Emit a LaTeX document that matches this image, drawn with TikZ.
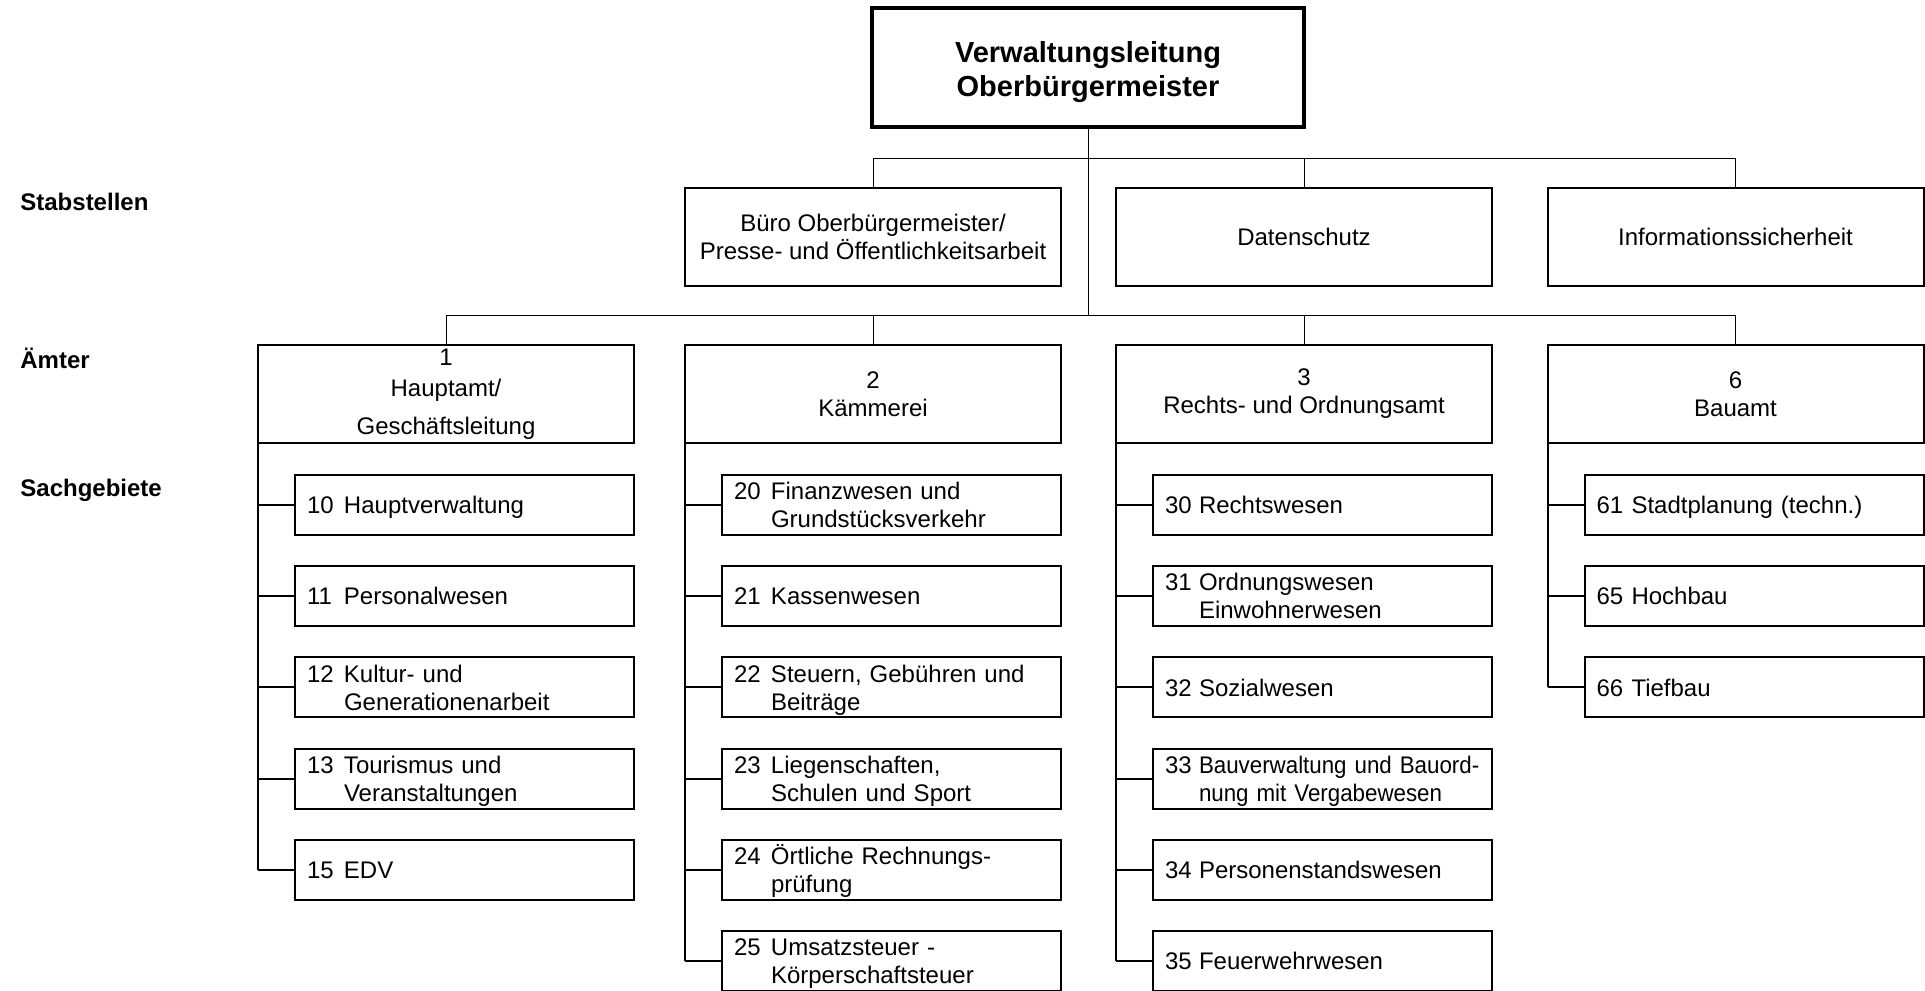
\documentclass[tikz,border=0pt]{standalone}
\usepackage{fontspec}
\setmainfont{Liberation Sans}
\usetikzlibrary{calc}

\newcommand{\sgtext}[3][18.5pt]{\raisebox{-1.5pt}[\height][\depth]{\begin{tabular}{@{}p{#1}@{}l@{}}#2&#3\end{tabular}}}

\tikzset{
  headbox/.style={draw, line width=2pt, outer sep=0pt, minimum width=216pt, minimum height=59pt,
    align=center, font=\bfseries\fontsize{14.5}{17}\selectfont},
  box/.style={draw, line width=1pt, outer sep=0pt, inner sep=0pt, minimum width=188pt,
    minimum height=49pt, align=center, font=\fontsize{12}{14}\selectfont},
  sgbox/.style={draw, line width=1pt, outer sep=0pt, inner xsep=6pt, inner ysep=0pt,
    minimum height=30pt, text width=157.5pt, align=left, font=\fontsize{12}{14}\selectfont},
  level/.style={anchor=base west, inner sep=0pt, font=\bfseries\fontsize{12}{14}\selectfont},
  conn/.style={line width=0.5pt},
  sconn/.style={line width=1pt},
}

\begin{document}
\begin{tikzpicture}[x=0.5pt, y=-0.5pt]
  \clip (0,0) rectangle (1925,990);

  % Leitung
  \node[headbox] (vl) at (1088,67.5)
    {\raisebox{-2.5pt}[\height][\depth]{\begin{tabular}{@{}c@{}}Verwaltungsleitung\\Oberbürgermeister\end{tabular}}};
  \coordinate (sbus) at (1088,158);
  \coordinate (abus) at (1088,315);

  % Ebenen
  \node[level] (lstab) at (20,210) {Stabstellen};
  \node[level] (lamt) at (20,368) {Ämter};
  \node[level] (lsg) at (20,496.5) {Sachgebiete};

  % Stabstellen
  \node[box] (stab1) at (873,237) {Büro Oberbürgermeister/\\Presse- und Öffentlichkeitsarbeit};
  \node[box] (stab2) at (1304,237) {Datenschutz};
  \node[box] (stab3) at (1735.5,237) {Informationssicherheit};

  % Aemter
  \node[box] (amt1) at (446,394) {1\\[1.5pt]Hauptamt/\\[5pt]Geschäftsleitung};
  \node[box] (amt2) at (873,394) {2\\Kämmerei};
  \node[box] (amt3) at (1304,394) {3\\Rechts- und Ordnungsamt};
  \node[box] (amt6) at (1735.5,394) {6\\Bauamt};

  \draw[conn] (vl.south) -- (abus);
  \draw[conn] (stab1.north) -- (stab1.north |- sbus) -- (stab3.north |- sbus) -- (stab3.north);
  \draw[conn] (stab2.north) -- (stab2.north |- sbus);
  \draw[conn] (amt1.north) -- (amt1.north |- abus) -- (amt6.north |- abus) -- (amt6.north);
  \draw[conn] (amt2.north) -- (amt2.north |- abus);
  \draw[conn] (amt3.north) -- (amt3.north |- abus);

  % Sachgebiete
  \foreach \num/\txt [count=\i] in {10/{Hauptverwaltung}, 11/{Personalwesen},
      12/{Kultur- und\\ & Generationenarbeit}, 13/{Tourismus und\\ & Veranstaltungen}, 15/{EDV}}{
    \node[sgbox] (s\num) at (464.5,{505+91.2*(\i-1)}) {\sgtext{\num}{\txt}};
    \draw[sconn] (amt1.south west |- s\num.west) -- (s\num.west);
  }
  \foreach \num/\txt [count=\i] in {20/{Finanzwesen und\\ & Grundstücksverkehr}, 21/{Kassenwesen},
      22/{Steuern, Gebühren und\\ & Beiträge}, 23/{Liegenschaften,\\ & Schulen und Sport},
      24/{Örtliche Rechnungs-\\ & prüfung}, 25/{Umsatzsteuer -\\ & Körperschaftsteuer}}{
    \node[sgbox] (s\num) at (891.5,{505+91.2*(\i-1)}) {\sgtext{\num}{\txt}};
    \draw[sconn] (amt2.south west |- s\num.west) -- (s\num.west);
  }
  \foreach \num/\txt [count=\i] in {30/{Rechtswesen}, 31/{Ordnungswesen\\ & Einwohnerwesen},
      32/{Sozialwesen}, 33/{\addfontfeature{FakeStretch=0.93}Bauverwaltung und Bauord-\\ & \addfontfeature{FakeStretch=0.93}nung mit Vergabewesen},
      34/{Personenstandswesen}, 35/{Feuerwehrwesen}}{
    \node[sgbox] (s\num) at (1322.5,{505+91.2*(\i-1)}) {\sgtext[17pt]{\num}{\txt}};
    \draw[sconn] (amt3.south west |- s\num.west) -- (s\num.west);
  }
  \foreach \num/\txt [count=\i] in {61/{Stadtplanung (techn.)}, 65/{Hochbau}, 66/{Tiefbau}}{
    \node[sgbox] (s\num) at (1754,{505+91.2*(\i-1)}) {\sgtext[17.5pt]{\num}{\txt}};
    \draw[sconn] (amt6.south west |- s\num.west) -- (s\num.west);
  }

  \draw[sconn] (amt1.south west) -- (amt1.south west |- s15.west);
  \draw[sconn] (amt2.south west) -- (amt2.south west |- s25.west);
  \draw[sconn] (amt3.south west) -- (amt3.south west |- s35.west);
  \draw[sconn] (amt6.south west) -- (amt6.south west |- s66.west);
\end{tikzpicture}
\end{document}
